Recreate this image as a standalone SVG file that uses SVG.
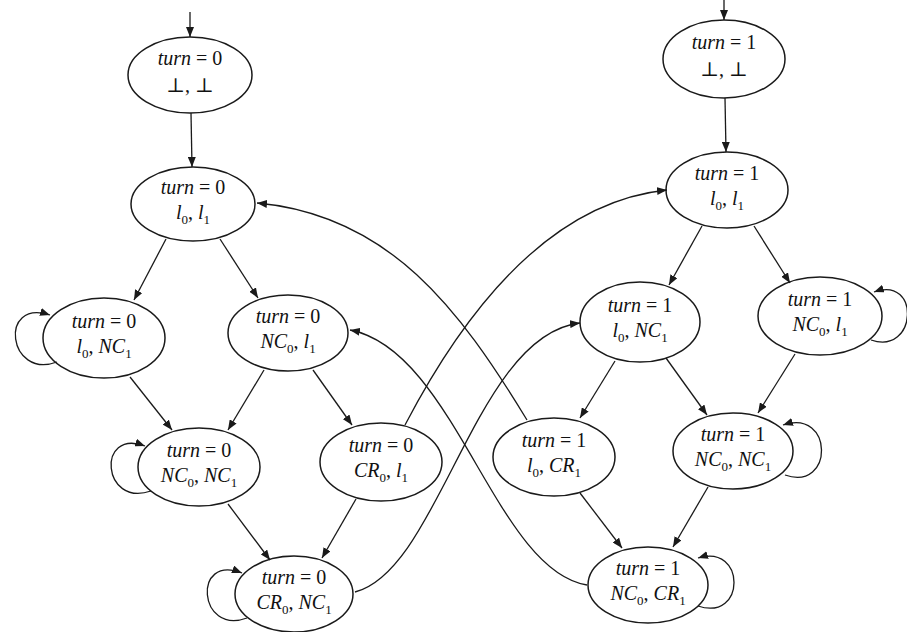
<svg xmlns="http://www.w3.org/2000/svg" width="907" height="632" viewBox="0 0 907 632">
<style>
.n{fill:none;stroke:#1a1a1a;stroke-width:1.5}
.e{fill:none;stroke:#1a1a1a;stroke-width:1.3;marker-end:url(#ah)}
.t{font-family:"Liberation Serif","DejaVu Serif",serif;font-size:20px;fill:#111;text-anchor:middle}
.i{font-style:italic}
.s{font-size:13px}
</style>
<defs>
<marker id="ah" markerUnits="userSpaceOnUse" markerWidth="11" markerHeight="8" refX="10" refY="4" orient="auto">
<path d="M0,0 L10,4 L0,8 z" fill="#1a1a1a"/>
</marker>
</defs>
<rect width="907" height="632" fill="#fff"/>

<g id="A0"><ellipse class="n" cx="190" cy="75" rx="62" ry="38"/>
<text class="t" x="190" y="65"><tspan class="i">turn</tspan> = 0</text>
<text class="t" x="190" y="92">⊥, ⊥</text></g>

<g id="B0"><ellipse class="n" cx="193" cy="204" rx="62" ry="37"/>
<text class="t" x="193" y="194"><tspan class="i">turn</tspan> = 0</text>
<text class="t" x="193" y="219"><tspan class="i">l</tspan><tspan class="s" dy="5">0</tspan><tspan dy="-5">, </tspan><tspan class="i">l</tspan><tspan class="s" dy="5">1</tspan></text></g>

<g id="C0"><ellipse class="n" cx="104" cy="338" rx="61" ry="40"/>
<text class="t" x="104" y="328"><tspan class="i">turn</tspan> = 0</text>
<text class="t" x="104" y="353"><tspan class="i">l</tspan><tspan class="s" dy="5">0</tspan><tspan dy="-5">, </tspan><tspan class="i">NC</tspan><tspan class="s" dy="5">1</tspan></text></g>

<g id="D0"><ellipse class="n" cx="288" cy="333" rx="60" ry="38"/>
<text class="t" x="288" y="323"><tspan class="i">turn</tspan> = 0</text>
<text class="t" x="288" y="348"><tspan class="i">NC</tspan><tspan class="s" dy="5">0</tspan><tspan dy="-5">, </tspan><tspan class="i">l</tspan><tspan class="s" dy="5">1</tspan></text></g>

<g id="E0"><ellipse class="n" cx="199" cy="467" rx="61" ry="39"/>
<text class="t" x="199" y="457"><tspan class="i">turn</tspan> = 0</text>
<text class="t" x="199" y="482"><tspan class="i">NC</tspan><tspan class="s" dy="5">0</tspan><tspan dy="-5">, </tspan><tspan class="i">NC</tspan><tspan class="s" dy="5">1</tspan></text></g>

<g id="F0"><ellipse class="n" cx="381" cy="462" rx="61" ry="39"/>
<text class="t" x="381" y="452"><tspan class="i">turn</tspan> = 0</text>
<text class="t" x="381" y="477"><tspan class="i">CR</tspan><tspan class="s" dy="5">0</tspan><tspan dy="-5">, </tspan><tspan class="i">l</tspan><tspan class="s" dy="5">1</tspan></text></g>

<g id="G0"><ellipse class="n" cx="294" cy="594" rx="59" ry="38"/>
<text class="t" x="294" y="584"><tspan class="i">turn</tspan> = 0</text>
<text class="t" x="294" y="609"><tspan class="i">CR</tspan><tspan class="s" dy="5">0</tspan><tspan dy="-5">, </tspan><tspan class="i">NC</tspan><tspan class="s" dy="5">1</tspan></text></g>

<g id="A1"><ellipse class="n" cx="724" cy="59" rx="61" ry="39"/>
<text class="t" x="724" y="49"><tspan class="i">turn</tspan> = 1</text>
<text class="t" x="724" y="76">⊥, ⊥</text></g>

<g id="B1"><ellipse class="n" cx="727" cy="190" rx="61" ry="38"/>
<text class="t" x="727" y="180"><tspan class="i">turn</tspan> = 1</text>
<text class="t" x="727" y="205"><tspan class="i">l</tspan><tspan class="s" dy="5">0</tspan><tspan dy="-5">, </tspan><tspan class="i">l</tspan><tspan class="s" dy="5">1</tspan></text></g>

<g id="C1"><ellipse class="n" cx="640" cy="322" rx="60" ry="40"/>
<text class="t" x="640" y="312"><tspan class="i">turn</tspan> = 1</text>
<text class="t" x="640" y="337"><tspan class="i">l</tspan><tspan class="s" dy="5">0</tspan><tspan dy="-5">, </tspan><tspan class="i">NC</tspan><tspan class="s" dy="5">1</tspan></text></g>

<g id="D1"><ellipse class="n" cx="820" cy="316" rx="62" ry="39"/>
<text class="t" x="820" y="306"><tspan class="i">turn</tspan> = 1</text>
<text class="t" x="820" y="331"><tspan class="i">NC</tspan><tspan class="s" dy="5">0</tspan><tspan dy="-5">, </tspan><tspan class="i">l</tspan><tspan class="s" dy="5">1</tspan></text></g>

<g id="E1"><ellipse class="n" cx="554" cy="457" rx="61" ry="39"/>
<text class="t" x="554" y="447"><tspan class="i">turn</tspan> = 1</text>
<text class="t" x="554" y="472"><tspan class="i">l</tspan><tspan class="s" dy="5">0</tspan><tspan dy="-5">, </tspan><tspan class="i">CR</tspan><tspan class="s" dy="5">1</tspan></text></g>

<g id="F1"><ellipse class="n" cx="733" cy="451" rx="60" ry="38"/>
<text class="t" x="733" y="441"><tspan class="i">turn</tspan> = 1</text>
<text class="t" x="733" y="466"><tspan class="i">NC</tspan><tspan class="s" dy="5">0</tspan><tspan dy="-5">, </tspan><tspan class="i">NC</tspan><tspan class="s" dy="5">1</tspan></text></g>

<g id="G1"><ellipse class="n" cx="648" cy="585" rx="60" ry="38"/>
<text class="t" x="648" y="575"><tspan class="i">turn</tspan> = 1</text>
<text class="t" x="648" y="600"><tspan class="i">NC</tspan><tspan class="s" dy="5">0</tspan><tspan dy="-5">, </tspan><tspan class="i">CR</tspan><tspan class="s" dy="5">1</tspan></text></g>

<g id="edges">
<path class="e" d="M190,12 L190,37"/>
<path class="e" d="M724,0 L724,20"/>
<path class="e" d="M191,113 L192,167"/>
<path class="e" d="M725,98 L726,152"/>
<path class="e" d="M166,239 L134,300"/>
<path class="e" d="M220,239 L258,298"/>
<path class="e" d="M130,377 L172,430"/>
<path class="e" d="M264,370 L228,430"/>
<path class="e" d="M313,370 L352,425"/>
<path class="e" d="M228,504 L270,560"/>
<path class="e" d="M356,499 L322,558"/>
<path class="e" d="M57,362 C8,380 -2,298 50,315"/>
<path class="e" d="M151,491 C102,508 96,428 145,446"/>
<path class="e" d="M247,618 C198,636 192,553 242,573"/>
<path class="e" d="M702,226 L669,285"/>
<path class="e" d="M754,226 L790,283"/>
<path class="e" d="M615,361 L580,418"/>
<path class="e" d="M666,358 L707,415"/>
<path class="e" d="M795,354 L758,413"/>
<path class="e" d="M580,493 L622,548"/>
<path class="e" d="M708,487 L673,547"/>
<path class="e" d="M871,340 C917,356 921,275 874,292"/>
<path class="e" d="M785,475 C834,492 834,408 783,425"/>
<path class="e" d="M698,606 C746,622 746,543 698,558"/>
<path class="e" d="M527,420 C460,310 390,215 257,203"/>
<path class="e" d="M405,425 Q520,205 667,190"/>
<path class="e" d="M355,592 C440,570 475,335 580,323"/>
<path class="e" d="M587,585 C495,570 455,350 350,330"/>
</g>
</svg>
